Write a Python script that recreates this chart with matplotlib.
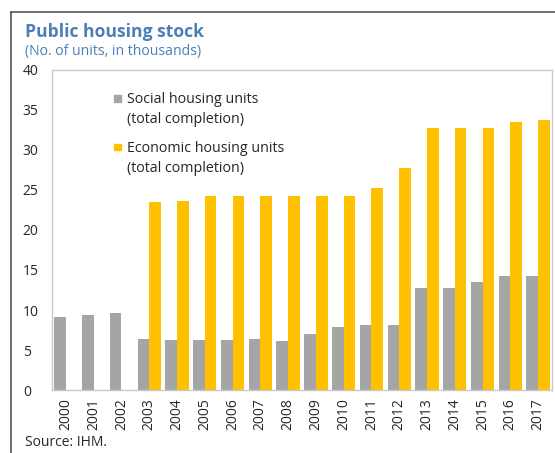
import matplotlib.pyplot as plt
import numpy as np
from matplotlib.lines import Line2D
from matplotlib.patches import Rectangle

plt.rcParams['font.family'] = ['Open Sans', 'DejaVu Sans']

years = [str(y) for y in range(2000, 2018)]
social = [9.1, 9.4, 9.6, 6.4, 6.25, 6.25, 6.25, 6.4, 6.1, 7.05, 7.9, 8.1, 8.1, 12.8, 12.8, 13.45, 14.25, 14.25]
economic = [0, 0, 0, 23.5, 23.65, 24.3, 24.3, 24.3, 24.3, 24.3, 24.3, 25.2, 27.8, 32.7, 32.7, 32.7, 33.45, 33.8]
yticks = [0, 5, 10, 15, 20, 25, 30, 35, 40]
series_labels = ['Social housing units\n(total completion)',
                 'Economic housing units\n(total completion)']

grey = '#a5a5a5'
gold = '#ffc000'
blue = '#4a7fb8'
dark = '#262626'

fig = plt.figure(figsize=(5.55, 4.53), dpi=100)
ax = fig.add_axes([52/555, 1-390/453, 500/555, 320/453])

x = np.arange(len(years))
w = 0.42
ax.bar(x - w/2, social, w, color=grey)
ax.bar(x + w/2, economic, w, color=gold)

ax.set_xlim(-0.5, len(years) - 0.5)
ax.set_ylim(0, 40)
ax.set_yticks(yticks)
ax.set_xticks(x)
ax.set_xticklabels(years, rotation=90)
ax.tick_params(length=0, labelsize=10, colors=dark)
ax.tick_params(axis='y', pad=21)
ax.tick_params(axis='x', pad=6)
for lab in ax.get_yticklabels():
    lab.set_horizontalalignment('left')
for s in ax.spines.values():
    s.set_color('#c8c8c8')
    s.set_linewidth(1)

# legend drawn by hand so the square sits next to the first line
def ax_xy(px, py):
    return (px - 52) / 500, (390 - py) / 320

for i, (lab, col) in enumerate(zip(series_labels, [grey, gold])):
    sy = 95.5 + i * 48.5
    x0, y0 = ax_xy(114, sy + 6.5)
    ax.add_patch(Rectangle((x0, y0), 6.5/500, 6.5/320, transform=ax.transAxes,
                           color=col, clip_on=False))
    tx, ty = ax_xy(127, sy - 3)
    ax.text(tx, ty, lab, transform=ax.transAxes, fontsize=10.3, color=dark,
            va='top', ha='left', linespacing=1.45)

fig.text(25/555, 1-32/453, 'Public housing stock', fontsize=12.6, fontweight='bold',
         color=blue, va='center')
fig.text(25/555, 1-52/453, '(No. of units, in thousands)', fontsize=10.1,
         color=blue, va='center')
fig.text(25/555, 1-443/453, 'Source: IHM.', fontsize=10, color=dark, va='center')

fig.add_artist(Line2D([11/555, 11/555], [0, 1-12/453], color='#555555', lw=1.2))
fig.add_artist(Line2D([11/555, 1], [1-12/453, 1-12/453], color='#555555', lw=1.2))

fig.savefig('out.png', dpi=100)
